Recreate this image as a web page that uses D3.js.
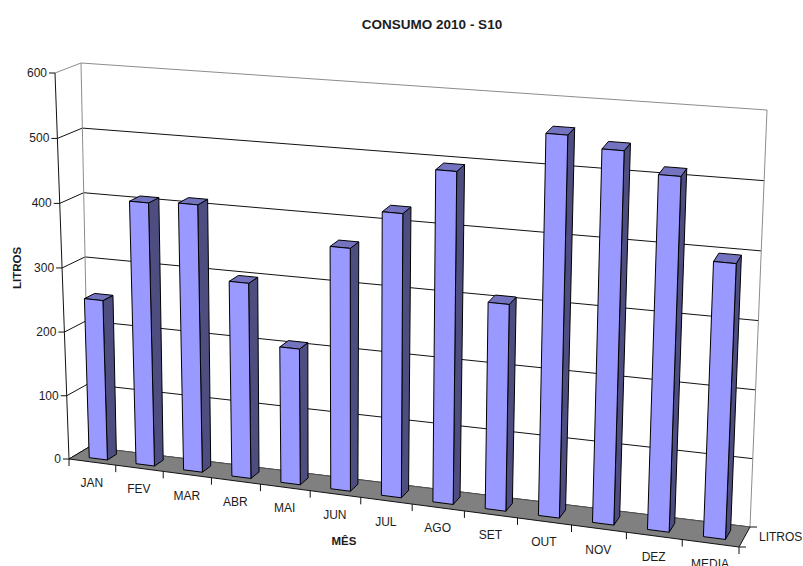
<!DOCTYPE html>
<html>
<head>
<meta charset="utf-8">
<style>
html,body{margin:0;padding:0;background:#fff;overflow:hidden}
svg{display:block}
text{font-family:"Liberation Sans",Arial,sans-serif;fill:#1c1c1c}
</style>
<script src="https://cdn.jsdelivr.net/npm/d3@7/dist/d3.min.js"></script>
</head>
<body>
<svg id="chart" width="803" height="566"></svg>
<script>
const titleText = "CONSUMO 2010 - S10";
const categories = ["JAN","FEV","MAR","ABR","MAI","JUN","JUL","AGO","SET","OUT","NOV","DEZ","MEDIA"];
const litros = [250,408,412,300,208,368,427,496,308,562,546,516,399];
const valueTicks = [0,100,200,300,400,500,600];

// Corners of the chart box on screen: f = front, b = back, l/r = left/right, 0/1 = floor/ceiling
const box = {
  fl0:[69,459],  fl1:[55,73],
  fr0:[739,547], fr1:[756,128],
  bl0:[89,447],  bl1:[81,63],
  br0:[750,527], br1:[767,110]
};
const perspectiveX = 0.90, perspectiveY = 0.98;
const warp = (t,w) => w*t/(1+t*(w-1));

const xBand = d3.scaleBand().domain(categories).range([0,1]);
const yValue = d3.scaleLinear().domain([0,600]).range([0,1]);
const lerp2 = (a,b,t) => [a[0]+(b[0]-a[0])*t, a[1]+(b[1]-a[1])*t];

// u along categories, value on the vertical axis, d into the depth of the box
function project(u,value,d){
  const su = warp(u,perspectiveX), sv = warp(yValue(value),perspectiveY);
  const front = lerp2(lerp2(box.fl0,box.fr0,su), lerp2(box.fl1,box.fr1,su), sv);
  const back  = lerp2(lerp2(box.bl0,box.br0,su), lerp2(box.bl1,box.br1,su), sv);
  return lerp2(front,back,d);
}

const svg = d3.select("#chart");
const line = d3.line();
const poly = pts => line(pts)+"Z";

const wallGray = "#8c8c8c";

// Walls and gridlines
const walls = svg.append("g");
walls.append("path").attr("d",poly([project(0,0,0),project(0,600,0),project(0,600,1),project(0,0,1)])).attr("fill","#fff");
walls.append("path").attr("d",poly([project(0,0,1),project(0,600,1),project(1,600,1),project(1,0,1)])).attr("fill","#fff");
valueTicks.forEach(v=>{
  if(v===600) return;
  walls.append("path")
    .attr("d",line([project(0,v,0),project(0,v,1),project(1,v,1)]))
    .attr("fill","none").attr("stroke","#111").attr("stroke-width",1);
});
walls.append("path")
  .attr("d",line([project(0,600,0),project(0,600,1),project(1,600,1),project(1,0,1)]))
  .attr("fill","none").attr("stroke",wallGray).attr("stroke-width",1);
walls.append("path")
  .attr("d",line([project(0,0,1),project(0,600,1)]))
  .attr("fill","none").attr("stroke",wallGray).attr("stroke-width",1);

// Floor
svg.append("path")
  .attr("d",poly([project(0,0,0),project(1,0,0),project(1,0,1),project(0,0,1)]))
  .attr("fill","#808080").attr("stroke","none");
svg.append("path")
  .attr("d",line([project(0,0,1),project(1,0,1)]))
  .attr("fill","none").attr("stroke","#555").attr("stroke-width",1);

// Bars
const bw = xBand.bandwidth();
const barFrom = 0.32, barTo = 0.71, depthFrom = 0.27, depthTo = 0.73;
const bars = svg.append("g").selectAll("g").data(categories).join("g");
bars.each(function(c,i){
  const g = d3.select(this), v = litros[i];
  const u0 = xBand(c)+bw*barFrom, u1 = xBand(c)+bw*barTo;
  const faces = [
    {fill:"#4d4d80",pts:[project(u1,0,depthFrom),project(u1,v,depthFrom),project(u1,v,depthTo),project(u1,0,depthTo)]},
    {fill:"#7373bf",pts:[project(u0,v,depthFrom),project(u1,v,depthFrom),project(u1,v,depthTo),project(u0,v,depthTo)]},
    {fill:"#9999ff",pts:[project(u0,0,depthFrom),project(u1,0,depthFrom),project(u1,v,depthFrom),project(u0,v,depthFrom)]}
  ];
  g.selectAll("path").data(faces).join("path")
    .attr("d",f=>poly(f.pts)).attr("fill",f=>f.fill)
    .attr("stroke","#000").attr("stroke-width",1).attr("stroke-linejoin","round");
});

// Axes
const axes = svg.append("g").attr("fill","none").attr("stroke","#111").attr("stroke-width",1);
axes.append("path").attr("d",line([project(0,600,0),project(0,0,0),project(1,0,0),project(1,0,1)]));
axes.append("path").attr("d",line([project(0,0,0),project(0,0,1)]));
valueTicks.forEach(v=>{
  const p = project(0,v,0);
  axes.append("path").attr("d",line([[p[0]-6,p[1]],p]));
});
[...categories.map(c=>xBand(c)),1].forEach(u=>{
  const p = project(u,0,0);
  axes.append("path").attr("d",line([p,[p[0],p[1]+7]]));
});
[[1,0],[1,1]].forEach(([u,d])=>{
  const p = project(u,0,d);
  axes.append("path").attr("d",line([p,[p[0]+7,p[1]]]));
});

// Text
const fs = 12;
valueTicks.forEach(v=>{
  const p = project(0,v,0);
  svg.append("text").attr("x",p[0]-8).attr("y",p[1]+4).attr("text-anchor","end").attr("font-size",fs).text(v);
});
categories.forEach(c=>{
  const p = project(xBand(c)+bw/2,0,0);
  svg.append("text").attr("x",p[0]-0.5).attr("y",p[1]+25).attr("text-anchor","middle").attr("font-size",fs).text(c);
});
svg.append("text").attr("x",759).attr("y",541).attr("font-size",fs).text("LITROS");
svg.append("text").attr("x",432).attr("y",29).attr("text-anchor","middle").attr("font-size",13.5).attr("font-weight","bold").text(titleText);
svg.append("text").attr("x",344).attr("y",545).attr("text-anchor","middle").attr("font-size",11.5).attr("font-weight","bold").text("MÊS");
svg.append("text").attr("transform","translate(21,268) rotate(-90)").attr("text-anchor","middle").attr("font-size",11.5).attr("font-weight","bold").text("LITROS");
</script>
</body>
</html>
